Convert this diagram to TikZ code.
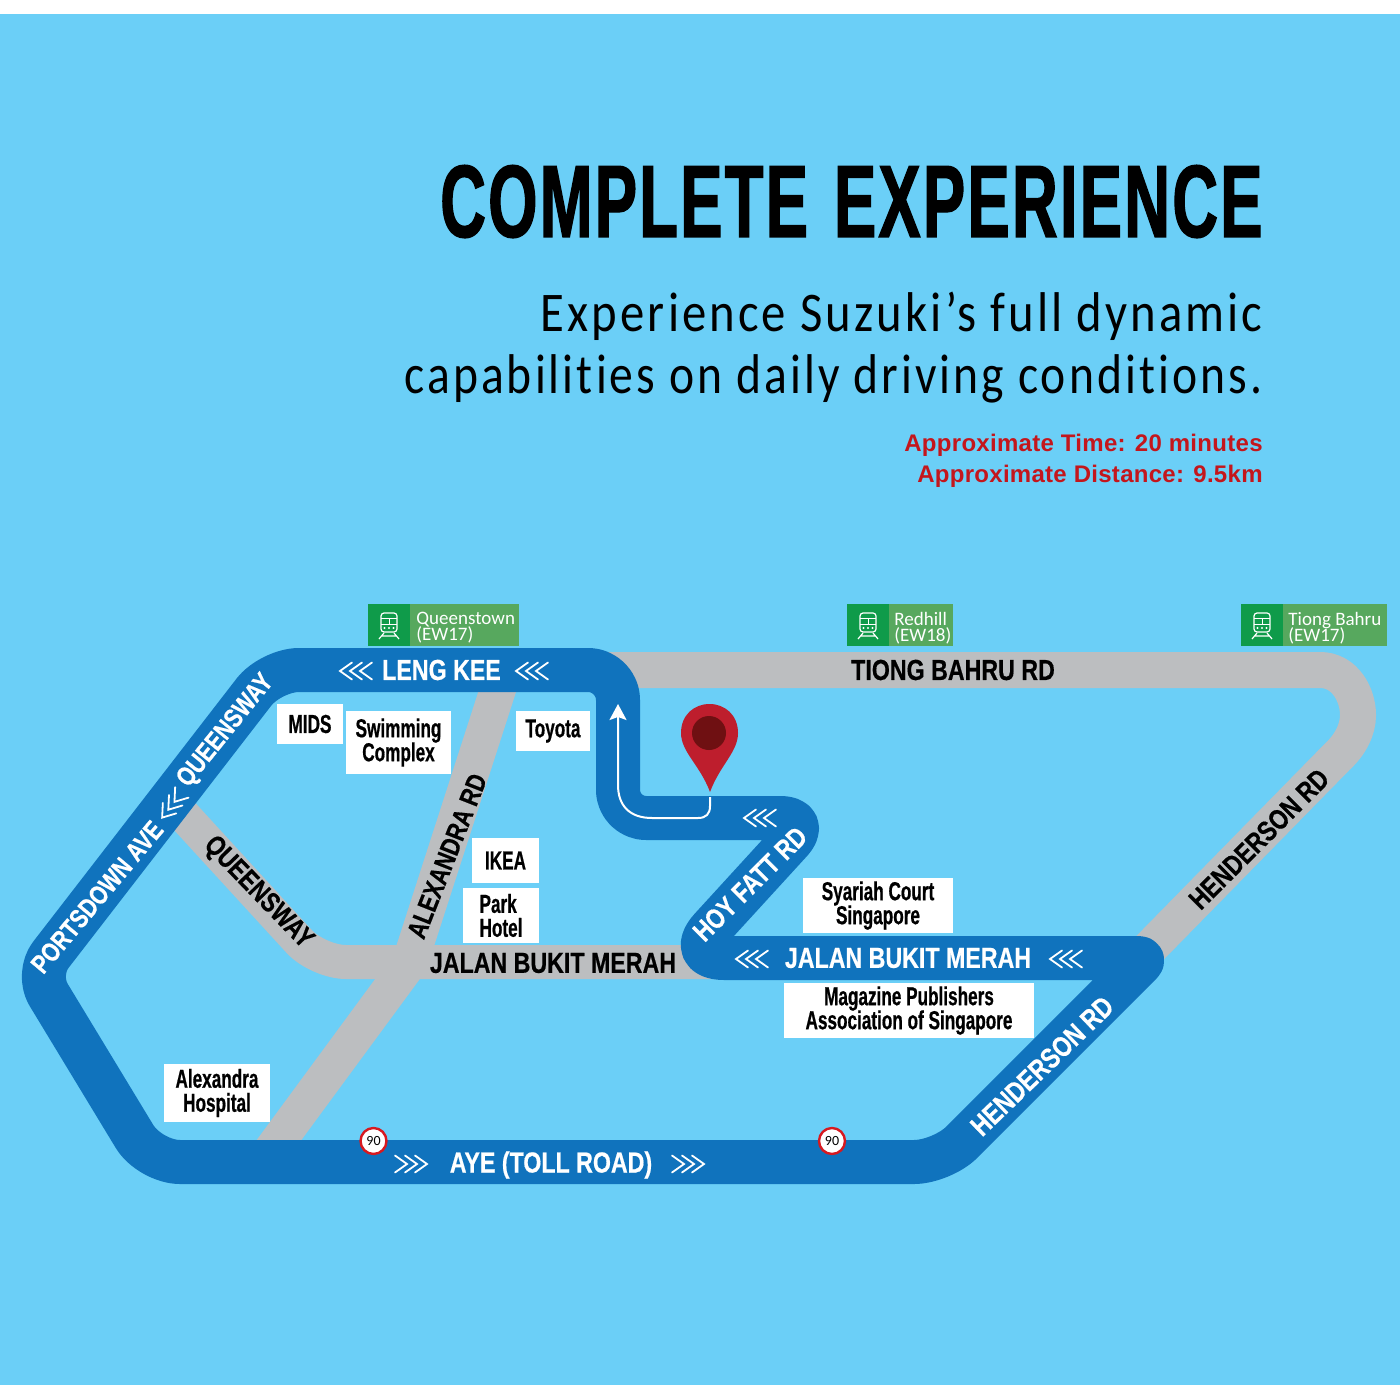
\documentclass[tikz,border=0pt]{standalone}
\usepackage{fontspec}
\usetikzlibrary{arrows.meta}
\setmainfont{Liberation Sans}
\lineskiplimit=-10pt
\newfontfamily\titlef[FakeStretch=0.615,FakeBold=1.2,LetterSpace=2.2,WordSpace=1.3]{Liberation Sans}
\newfontfamily\lblf[FakeStretch=0.8,FakeBold=0.5]{Liberation Sans}
\newfontfamily\boxf[FakeStretch=0.66,FakeBold=0.6]{Liberation Sans}
\newfontfamily\subf[FakeStretch=0.87,LetterSpace=5.5,Ligatures={NoCommon,NoRare}]{Carlito}
\newfontfamily\subg[FakeStretch=0.85,LetterSpace=5.5,Ligatures={NoCommon,NoRare}]{Carlito}
\newfontfamily\redf[LetterSpace=1.2]{Liberation Sans}
\newfontfamily\signf{Carlito}
\definecolor{sky}{HTML}{6BCFF7}
\definecolor{roadblue}{HTML}{1073BD}
\definecolor{roadgrey}{HTML}{BCBEC0}
\definecolor{gdark}{HTML}{0F9B4A}
\definecolor{glight}{HTML}{57A85E}
\definecolor{pinred}{HTML}{BE1E2D}
\definecolor{pindark}{HTML}{6F1012}
\definecolor{redtxt}{HTML}{C4161C}
\definecolor{speedred}{HTML}{D71920}
\tikzset{
  blueroad/.style={draw=roadblue,line width=22pt,line join=round},
  greyroad/.style={draw=roadgrey,line width=18pt},
  wlabel/.style={text=white,font=\lblf\bfseries\fontsize{14.5}{15}\selectfont,inner sep=0pt},
  klabel/.style={text=black,font=\lblf\bfseries\fontsize{14.5}{15}\selectfont,inner sep=0pt},
  wsmall/.style={text=white,font=\lblf\bfseries\fontsize{13.3}{14}\selectfont,inner sep=0pt},
  ksmall/.style={text=black,font=\lblf\bfseries\fontsize{14.2}{14}\selectfont,inner sep=0pt},
  wbox/.style={fill=white,inner sep=0pt,align=center,font=\boxf\bfseries\fontsize{13}{12}\selectfont},
  signtxt/.style={text=white,anchor=west,inner sep=0pt,align=left,font=\signf\fontsize{9.5}{8}\selectfont},
  chevline/.style={draw=white,line width=.9pt,line cap=round,line join=miter},
  speed/.style={circle,draw=speedred,line width=1.2pt,fill=white,minimum size=13pt,inner sep=0pt,font=\signf\fontsize{7}{7}\selectfont},
  redline/.style={text=redtxt,anchor=base east,inner sep=0pt,font=\redf\bfseries\fontsize{12}{12}\selectfont},
  subline/.style={text=black,anchor=base east,inner sep=0pt,font=\fontsize{28}{28}\selectfont}
}
\newcommand{\chevs}[3]{% x, y, rotation: three chevrons pointing left
  \begin{scope}[shift={(#1,#2)},rotate=#3]
    \foreach \d in {-10,0,10}
      \draw[chevline] (\d+6,-8.5) -- (\d-6,0) -- (\d+6,8.5);
  \end{scope}}
\newcommand{\trainicon}[2]{%
  \begin{scope}[shift={(#1,#2)}]
    \draw[white,line width=.6pt,rounded corners=1.5pt] (-8,-12) rectangle (8,7);
    \draw[white,line width=.5pt] (-8,-7) -- (8,-7) (-8,-1) -- (8,-1) (0,-7) -- (0,-1);
    \fill[white] (-4.5,3) circle (1.2) (0,3) circle (1.2) (4.5,3) circle (1.2);
    \draw[white,line width=.6pt] (-5,8) -- (-10,14) (5,8) -- (10,14) (-7,11) -- (7,11);
  \end{scope}}
\begin{document}
\begin{tikzpicture}[x=.5pt,y=-.5pt]
\useasboundingbox (0,0) rectangle (1400,1400);
\fill[white] (0,0) rectangle (1400,1400);
\fill[sky] (0,14) rectangle (1400,1385);

% grey roads
\draw[greyroad] (600,670) -- (1320,670) .. controls (1345,670) and (1358,695) .. (1358,715)
   .. controls (1358,730) and (1350,745) .. (1337,757) -- (1140,958);
\draw[greyroad,line width=17pt,rounded corners=14pt] (165,795) -- (318,962) -- (720,962);
\draw[greyroad] (501,680) -- (410,962) -- (268,1155);

% blue loop
\draw[blueroad] (400,670) [rounded corners=15pt] -- (618,670)
   [rounded corners=14pt] -- (618,818)
   [rounded corners=16pt] -- (812,818)
   [rounded corners=20pt] -- (684,958)
   [rounded corners=4pt] -- (1146,958)
   [rounded corners=14pt] -- (942,1162)
   [rounded corners=15pt] -- (150,1162)
   [rounded corners=12pt] -- (36,974)
   [rounded corners=14pt] -- (271,670)
   [sharp corners] -- cycle;

% route arrow
\coordinate (routeA) at (710,797);
\coordinate (routeB) at (618,704);
\draw[white,line width=1pt,-{Stealth[length=8pt,width=8.5pt,inset=1.5pt]}]
   (routeA) -- (710,806) .. controls (710,814) and (706,818) .. (698,818) -- (652,818)
   .. controls (630,818) and (618,806) .. (618,785) -- (routeB);

% pin
\fill[pinred] (710,792) .. controls (700,765) and (681,752) .. (681,733)
   .. controls (681,715) and (694,704) .. (709.5,704)
   .. controls (725,704) and (738,715) .. (738,733)
   .. controls (738,752) and (720,765) .. (710,792) -- cycle;
\fill[pindark] (709,733) circle (17);

% title
\node[anchor=base east,inner sep=0pt,font=\titlef\bfseries\fontsize{51.5}{52}\selectfont] (title) at (1263,237) {COMPLETE EXPERIENCE};
\node[subline] (sub1) at (1263,332) {\subf Experience Suzuki’s full dynamic};
\node[subline] (sub2) at (1263,394) {\subg capabilities on daily driving conditions.};
\node[redline] (time) at (1263,452) {Approximate Time: 20 minutes};
\node[redline] (dist) at (1263,483) {Approximate Distance: 9.5km};

% station signs
\fill[glight] (368,604) rectangle (519,646);
\fill[gdark] (368,604) rectangle (410,646);
\trainicon{389}{625}
\node[signtxt] (s1) at (416,628) {Queenstown\\(EW17)};
\fill[glight] (847,604) rectangle (953,646);
\fill[gdark] (847,604) rectangle (889,646);
\trainicon{868}{625}
\node[signtxt] (s2) at (894,628) {Redhill\\(EW18)};
\fill[glight] (1241,604) rectangle (1387,646);
\fill[gdark] (1241,604) rectangle (1283,646);
\trainicon{1262}{625}
\node[signtxt] (s3) at (1288,628) {Tiong Bahru\\(EW17)};

% road labels
\node[wlabel] (lengkee) at (441.5,670) {LENG KEE};
\node[klabel] (tiong) at (953,670) {TIONG BAHRU RD};
\node[klabel] (jbmk) at (553,963) {JALAN BUKIT MERAH};
\node[wlabel] (jbmw) at (908,958) {JALAN BUKIT MERAH};
\node[wlabel] (aye) at (551,1165) {AYE (TOLL ROAD)};
\node[wsmall,rotate=50] (port) at (97,897) {PORTSDOWN AVE};
\node[wsmall,rotate=51] (qw) at (226,731) {QUEENSWAY};
\node[ksmall,rotate=-46,font=\lblf\bfseries\fontsize{14}{14}\selectfont] (qk) at (258,893) {QUEENSWAY};
\node[ksmall,rotate=68.5,font=\lblf\bfseries\fontsize{13.6}{14}\selectfont] (alex) at (447,856) {ALEXANDRA RD};
\node[wsmall,rotate=45,font=\lblf\bfseries\fontsize{14}{14}\selectfont] (hoy) at (750,884) {HOY FATT RD};
\node[wsmall,rotate=44,font=\lblf\bfseries\fontsize{14.3}{14}\selectfont] (henw) at (1042,1066) {HENDERSON RD};
\node[ksmall,rotate=45] (henk) at (1259,839) {HENDERSON RD};

% chevrons
\chevs{356}{671}{0}
\chevs{532}{671}{0}
\chevs{760}{818}{0}
\chevs{752}{959}{0}
\chevs{1066}{959}{0}
\chevs{411}{1164}{180}
\chevs{688}{1164}{180}
\chevs{172}{805}{52}

% white boxes
\node[wbox,minimum width=33pt,minimum height=20pt] (mids) at (310,724) {MIDS};
\node[wbox,minimum width=52.5pt,minimum height=31.5pt] (swim) at (398.5,742.5) {Swimming\\Complex};
\node[wbox,minimum width=37pt,minimum height=20pt] (toyota) at (553,731) {Toyota};
\node[wbox,minimum width=33.5pt,minimum height=22.5pt] (ikea) at (505.5,860.5) {IKEA};
\node[wbox,minimum width=38pt,minimum height=27.5pt,align=left] (park) at (501,915.5) {Park\\Hotel};
\node[wbox,minimum width=75pt,minimum height=27.5pt] (syariah) at (878,905.5) {Syariah Court\\Singapore};
\node[wbox,minimum width=125pt,minimum height=27.5pt] (mag) at (909,1010.5) {Magazine Publishers\\Association of Singapore};
\node[wbox,minimum width=53pt,minimum height=29pt] (hosp) at (217,1093) {Alexandra\\Hospital};

% speed signs
\node[speed] (sp1) at (373.5,1141) {90};
\node[speed] (sp2) at (832,1141) {90};
\end{tikzpicture}
\end{document}
